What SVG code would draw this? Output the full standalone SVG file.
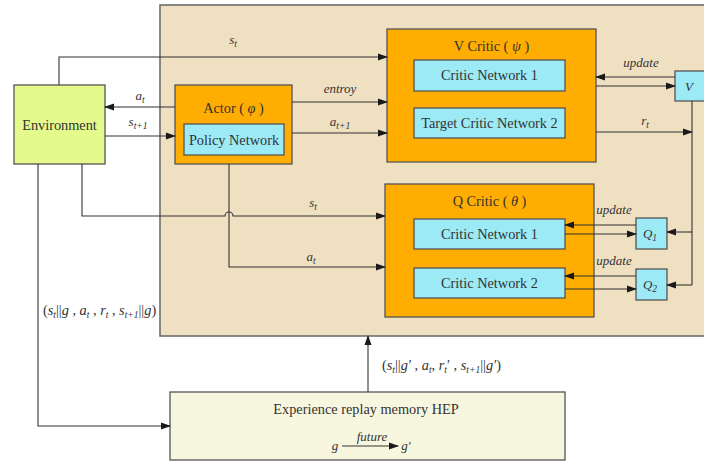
<svg xmlns="http://www.w3.org/2000/svg" width="704" height="462" viewBox="0 0 704 462">
  <defs>
    <marker id="arr" markerWidth="10" markerHeight="8" refX="9" refY="4" orient="auto" markerUnits="userSpaceOnUse">
      <path d="M0,0.5 L10,4 L0,7.5 Z" fill="#1a1a1a"/>
    </marker>
    <style>
      .box { stroke: #555; stroke-width: 1.3; }
      .panel { fill: #efe0c2; stroke: #666; stroke-width: 1.5; }
      .env { fill: #e4fa8c; }
      .org { fill: #ffad00; }
      .net { fill: #9ceaf5; }
      .hep { fill: #f7f6de; }
      .ln { fill: none; stroke: #333; stroke-width: 1.1; }
      .arw { fill: none; stroke: #333; stroke-width: 1.1; marker-end: url(#arr); }
      text { font-family: "Liberation Serif", "Times New Roman", serif; fill: #333; }
      .t { font-size: 14.3px; text-anchor: middle; }
      .lab { font-size: 13px; font-style: italic; text-anchor: middle; }
      .sub { font-size: 9.5px; }
    </style>
  </defs>

  <!-- shaded agent panel -->
  <rect class="panel" x="160" y="5" width="560" height="331"/>

  <g id="environment">
    <rect class="box env" x="14" y="85" width="91" height="79"/>
    <text class="t" x="59.5" y="130">Environment</text>
  </g>

  <g id="actor">
    <rect class="box org" x="175" y="85" width="117" height="79"/>
    <text class="t" x="233.5" y="113">Actor ( <tspan font-style="italic">φ</tspan> )</text>
    <rect class="box net" x="184" y="124" width="100" height="31"/>
    <text class="t" x="234" y="145">Policy Network</text>
  </g>

  <g id="v-critic">
    <rect class="box org" x="387" y="29" width="209" height="133"/>
    <text class="t" x="491.5" y="51">V Critic ( <tspan font-style="italic">ψ</tspan> )</text>
    <rect class="box net" x="414" y="60" width="151" height="31"/>
    <text class="t" x="489.5" y="80">Critic Network 1</text>
    <rect class="box net" x="414" y="108" width="151" height="30"/>
    <text class="t" x="489.5" y="128">Target Critic Network 2</text>
  </g>

  <g id="q-critic">
    <rect class="box org" x="385" y="184" width="209" height="133"/>
    <text class="t" x="489.5" y="206">Q Critic ( <tspan font-style="italic">θ</tspan> )</text>
    <rect class="box net" x="414" y="219" width="151" height="30"/>
    <text class="t" x="489.5" y="238.5">Critic Network 1</text>
    <rect class="box net" x="414" y="268" width="151" height="30"/>
    <text class="t" x="489.5" y="288">Critic Network 2</text>
  </g>

  <g id="v-value">
    <rect class="box net" x="675" y="71" width="34" height="30"/>
    <text class="lab" x="689" y="91" font-size="14px">V</text>
  </g>

  <g id="q1">
    <rect class="box net" x="636" y="218" width="31" height="31"/>
    <text class="lab" x="650" y="238" font-size="14px">Q<tspan class="sub" dy="3">1</tspan></text>
  </g>

  <g id="q2">
    <rect class="box net" x="636" y="269" width="31" height="31"/>
    <text class="lab" x="650" y="289" font-size="14px">Q<tspan class="sub" dy="3">2</tspan></text>
  </g>

  <g id="hep">
    <rect class="box hep" x="170" y="392" width="395" height="68"/>
    <text class="t" x="366" y="414">Experience replay memory HEP</text>
    <text class="lab" x="335" y="450" font-size="15px">g</text>
    <path class="arw" d="M342,446 H398"/>
    <text class="lab" x="372" y="441">future</text>
    <text class="lab" x="406" y="450" font-size="15px">g′</text>
  </g>

  <g id="connectors">
    <!-- environment state to V critic -->
    <path class="arw" d="M59,85 V57 H387"/>
    <!-- actor/environment exchange -->
    <path class="arw" d="M175,107 H105"/>
    <path class="arw" d="M105,136 H175"/>
    <!-- actor to V critic -->
    <path class="arw" d="M292,102 H387"/>
    <path class="arw" d="M292,133 H387"/>
    <!-- state and action to Q critic, with a hop over the action line -->
    <path class="arw" d="M82,164 V216 H225 A4,4 0 0 1 233,216 H385"/>
    <path class="arw" d="M229,164 V267 H385"/>
    <!-- V update loop -->
    <path class="arw" d="M675,77 H596"/>
    <path class="arw" d="M596,86 H675"/>
    <!-- reward into the V / Q feed line -->
    <path class="arw" d="M596,132 H692"/>
    <path class="ln" d="M692,101 V285"/>
    <path class="arw" d="M692,232 H667"/>
    <path class="arw" d="M692,285 H667"/>
    <!-- Q update loops -->
    <path class="arw" d="M636,225 H565"/>
    <path class="arw" d="M565,234 H636"/>
    <path class="arw" d="M636,276 H565"/>
    <path class="arw" d="M565,289 H636"/>
    <!-- transitions into and out of the replay memory -->
    <path class="arw" d="M38,164 V426 H170"/>
    <path class="arw" d="M368,392 V336"/>
  </g>

  <g id="labels">
    <text class="lab" x="233" y="44">s<tspan class="sub" dy="3">t</tspan></text>
    <text class="lab" x="140" y="100">a<tspan class="sub" dy="3">t</tspan></text>
    <text class="lab" x="138" y="126">s<tspan class="sub" dy="3">t+1</tspan></text>
    <text class="lab" x="340" y="93">entroy</text>
    <text class="lab" x="340" y="126">a<tspan class="sub" dy="3">t+1</tspan></text>
    <text class="lab" x="641" y="67">update</text>
    <text class="lab" x="645" y="125">r<tspan class="sub" dy="3">t</tspan></text>
    <text class="lab" x="313" y="207">s<tspan class="sub" dy="3">t</tspan></text>
    <text class="lab" x="311" y="261">a<tspan class="sub" dy="3">t</tspan></text>
    <text class="lab" x="614" y="214">update</text>
    <text class="lab" x="614" y="265">update</text>
    <text x="43" y="315" font-size="14.3px">(<tspan font-style="italic">s</tspan><tspan class="sub" font-style="italic" dy="3">t</tspan><tspan dy="-3">||</tspan><tspan font-style="italic">g</tspan> , <tspan font-style="italic">a</tspan><tspan class="sub" font-style="italic" dy="3">t</tspan><tspan dy="-3"> , </tspan><tspan font-style="italic">r</tspan><tspan class="sub" font-style="italic" dy="3">t</tspan><tspan dy="-3"> , </tspan><tspan font-style="italic">s</tspan><tspan class="sub" font-style="italic" dy="3">t+1</tspan><tspan dy="-3">||</tspan><tspan font-style="italic">g</tspan>)</text>
    <text x="382" y="370" font-size="14.3px">(<tspan font-style="italic">s</tspan><tspan class="sub" font-style="italic" dy="3">t</tspan><tspan dy="-3">||</tspan><tspan font-style="italic">g′</tspan> , <tspan font-style="italic">a</tspan><tspan class="sub" font-style="italic" dy="3">t</tspan><tspan dy="-3">, </tspan><tspan font-style="italic">r</tspan><tspan class="sub" font-style="italic" dy="3">t</tspan><tspan dy="-3">′ , </tspan><tspan font-style="italic">s</tspan><tspan class="sub" font-style="italic" dy="3">t+1</tspan><tspan dy="-3">||</tspan><tspan font-style="italic">g′</tspan>)</text>
  </g>
</svg>
